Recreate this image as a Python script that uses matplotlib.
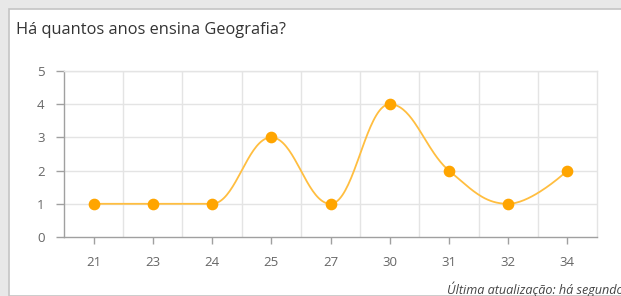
import matplotlib.pyplot as plt
import numpy as np
from matplotlib.patches import Rectangle

categories = ["21", "23", "24", "25", "27", "30", "31", "32", "34"]
counts = [1, 1, 1, 3, 1, 4, 2, 1, 2]
y_ticks = [0, 1, 2, 3, 4, 5]


def spline_path(xs, ys, smoothing=1.5, n=40):
    """Highcharts-style smooth curve through the points (cubic beziers)."""
    m = len(xs)
    left = [(xs[i], ys[i]) for i in range(m)]
    right = [(xs[i], ys[i]) for i in range(m)]
    denom = smoothing + 1
    for i in range(1, m - 1):
        px, py = xs[i], ys[i]
        lx, ly = xs[i - 1], ys[i - 1]
        nx, ny = xs[i + 1], ys[i + 1]
        lcx = (smoothing * px + lx) / denom
        lcy = (smoothing * py + ly) / denom
        rcx = (smoothing * px + nx) / denom
        rcy = (smoothing * py + ny) / denom
        corr = (rcy - lcy) * (rcx - px) / (rcx - lcx) + py - rcy
        lcy += corr
        rcy += corr
        # keep control points from creating false extremes
        if lcy > ly and lcy > py:
            lcy = max(ly, py)
            rcy = 2 * py - lcy
        elif lcy < ly and lcy < py:
            lcy = min(ly, py)
            rcy = 2 * py - lcy
        if rcy > ny and rcy > py:
            rcy = max(ny, py)
            lcy = 2 * py - rcy
        elif rcy < ny and rcy < py:
            rcy = min(ny, py)
            lcy = 2 * py - rcy
        left[i] = (lcx, lcy)
        right[i] = (rcx, rcy)

    t = np.linspace(0, 1, n)
    out_x, out_y = [], []
    for i in range(m - 1):
        p0 = np.array([xs[i], ys[i]])
        p1 = np.array(right[i])
        p2 = np.array(left[i + 1])
        p3 = np.array([xs[i + 1], ys[i + 1]])
        b = ((1 - t) ** 3)[:, None] * p0 + (3 * (1 - t) ** 2 * t)[:, None] * p1 \
            + (3 * (1 - t) * t ** 2)[:, None] * p2 + (t ** 3)[:, None] * p3
        out_x.extend(b[:, 0])
        out_y.extend(b[:, 1])
    return np.array(out_x), np.array(out_y)


plt.rcParams["font.family"] = ["Open Sans", "DejaVu Sans"]

W, H = 621, 296
fig = plt.figure(figsize=(W / 100, H / 100), dpi=100)
fig.patch.set_facecolor("#e8e8e8")

# white card behind everything
card = Rectangle((9 / W, 0), 1.0, (H - 8.5) / H, transform=fig.transFigure,
                 facecolor="white", edgecolor="#c4c4c4", linewidth=1.2, zorder=-10)
fig.patches.append(card)

fig.text(16 / W, 1 - 30 / H, "Há quantos anos ensina Geografia?",
         fontsize=11.8, color="#333333", va="center", ha="left")

ax = fig.add_axes([64 / W, (H - 237) / H, (597 - 64) / W, (237 - 71) / H])
ax.set_facecolor("none")
x = np.arange(len(categories))
sx, sy = spline_path(x, counts)
ax.plot(sx, sy, color="#ffbe40", linewidth=1.3, zorder=3, clip_on=False)
ax.plot(x, counts, "o", color="#ffa500", markersize=7.4, zorder=4, clip_on=False)

ax.set_xlim(-0.5, len(categories) - 0.5)
ax.set_ylim(0, 5)
ax.set_xticks(x)
ax.set_xticklabels(categories)
ax.set_yticks(y_ticks)

ax.grid(False)
for b in np.arange(1, len(categories)) - 0.5:
    ax.axvline(b, color="#e4e4e4", linewidth=1, zorder=1)
for v in y_ticks[1:]:
    ax.axhline(v, color="#e4e4e4", linewidth=1, zorder=1)

for s in ["top", "right"]:
    ax.spines[s].set_color("#e4e4e4")
    ax.spines[s].set_linewidth(1)
for s in ["left", "bottom"]:
    ax.spines[s].set_color("#a0a0a0")
    ax.spines[s].set_linewidth(1)

ax.tick_params(axis="x", length=5, width=1, color="#a0a0a0",
               pad=9, labelsize=9.5, labelcolor="#666666")
ax.tick_params(axis="y", length=6, width=1, color="#a0a0a0", pad=8,
               labelsize=9.5, labelcolor="#666666")

fig.text(447 / W, 1 - 289 / H, "Última atualização: há segundos",
         fontsize=9.1, style="italic", color="#444444", va="center", ha="left")

fig.savefig("out.png", dpi=100, facecolor=fig.get_facecolor())
